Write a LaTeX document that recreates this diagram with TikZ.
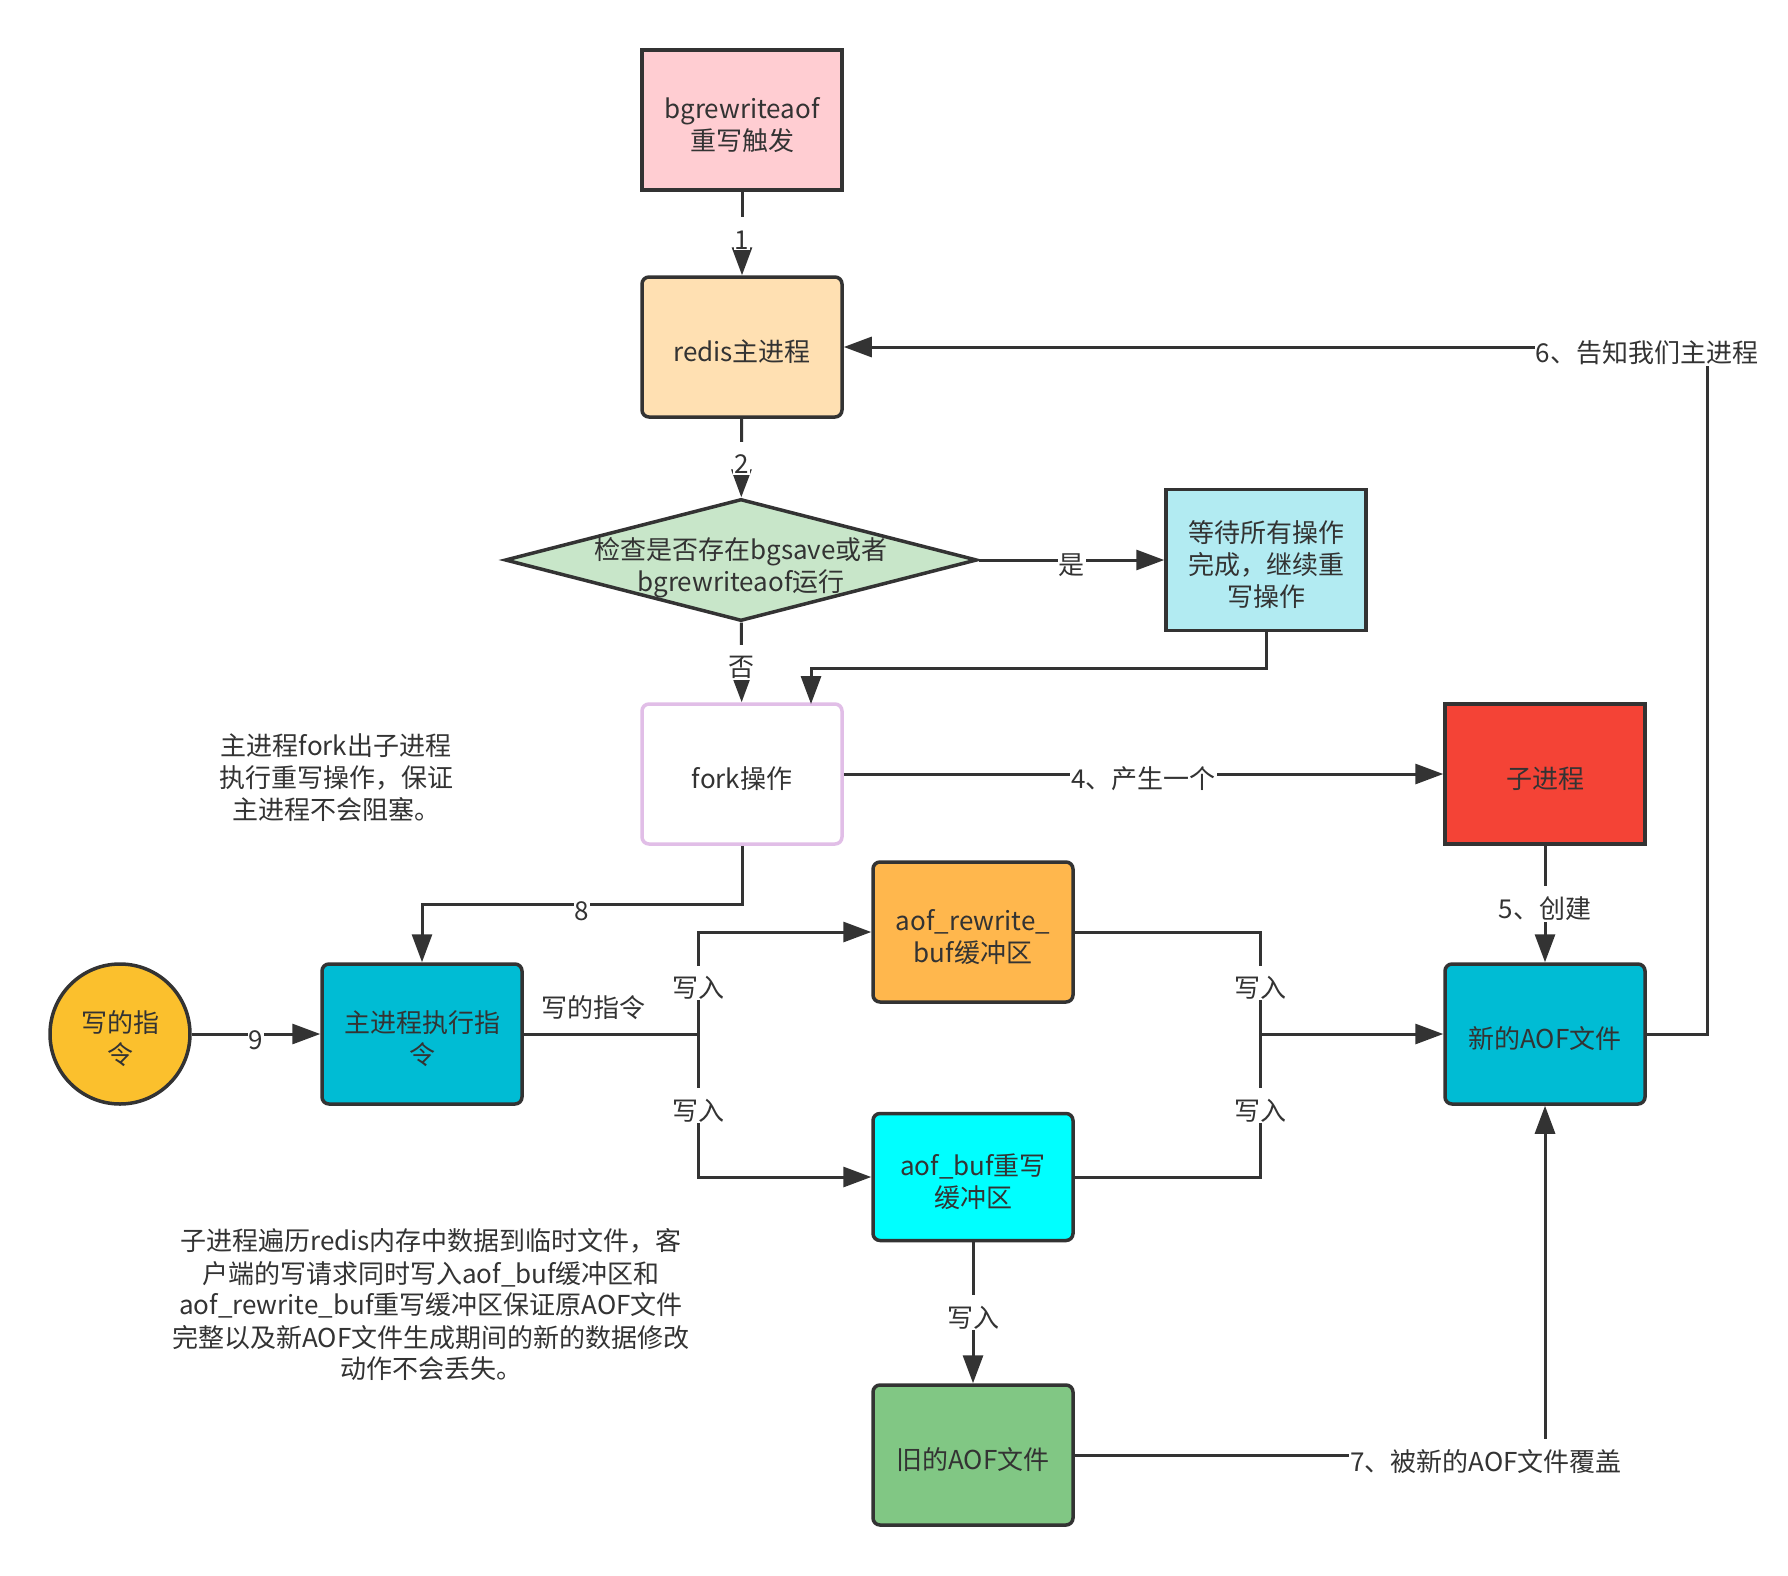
\documentclass[tikz,border=0pt]{standalone}
\usepackage{fontspec}
\setmainfont{Noto Sans CJK SC}
\usetikzlibrary{arrows.meta,shapes.geometric}
\definecolor{ln}{HTML}{333333}
\definecolor{cpink}{HTML}{FFCDD2}
\definecolor{cpeach}{HTML}{FFE0B2}
\definecolor{cgreen}{HTML}{C8E6C9}
\definecolor{cltblue}{HTML}{B2EBF2}
\definecolor{cpurple}{HTML}{E1BEE7}
\definecolor{cred}{HTML}{F44336}
\definecolor{corange}{HTML}{FFB74D}
\definecolor{cteal}{HTML}{00BCD4}
\definecolor{ccyan}{HTML}{00FFFF}
\definecolor{cleaf}{HTML}{81C784}
\definecolor{cyellow}{HTML}{FBC02D}
\newcommand\tsh{\rule{0pt}{31pt}}
\begin{document}
\begin{tikzpicture}[x=1pt,y=-1pt,
  font=\fontsize{26}{32}\selectfont, text=ln,
  tshift/.style={execute at begin node={\rule{0pt}{31pt}}},
  box/.style={draw=ln, line width=3.5pt, minimum width=200pt, minimum height=140pt, align=center, inner sep=2pt, tshift},
  rbox/.style={box, rounded corners=7pt},
  line/.style={draw=ln, line width=3pt},
  conn/.style={line, -{Triangle[length=28pt,width=20pt]}},
  lab/.style={fill=white, inner sep=1pt, tshift}]
\useasboundingbox (0,0) rectangle (1788,1576);
\fill[white] (0,0) rectangle (1788,1576);

% nodes
\node[box, fill=cpink] (trig) at (742,120) {\tsh bgrewriteaof\\重写触发};
\node[rbox, fill=cpeach] (redis) at (742,347) {redis主进程};
\node[diamond, draw=ln, line width=3.5pt, fill=cgreen, minimum width=472pt, minimum height=122pt, inner sep=0pt] (dia) at (741,560) {};
\node[align=center, inner sep=0pt] (diatxt) at (741,568) {检查是否存在bgsave或者\\bgrewriteaof运行};
\node[box, fill=cltblue, minimum height=141pt] (wait) at (1266,560) {\tsh 等待所有操作\\完成，继续重\\写操作};
\node[rbox, draw=cpurple, fill=white] (fork) at (742,774) {fork操作};
\node[box, fill=cred] (child) at (1545,774) {子进程};
\node[rbox, fill=corange] (arb) at (973,932) {\tsh aof\_rewrite\_\\buf缓冲区};
\node[rbox, fill=cteal] (mainexec) at (422,1034) {\tsh 主进程执行指\\令};
\node[circle, draw=ln, line width=3.5pt, fill=cyellow, minimum size=140pt, align=center, inner sep=0pt] (cmd) at (120,1034) {\tsh 写的指\\令};
\node[rbox, fill=cteal] (newaof) at (1545,1034) {新的AOF文件};
\node[rbox, fill=ccyan, minimum height=127pt] (ab) at (973,1177) {\tsh aof\_buf重写\\缓冲区};
\node[rbox, fill=cleaf] (old) at (973,1455) {旧的AOF文件};

% notes
\node[align=center] (note1) at (336,778) {主进程fork出子进程\\执行重写操作，保证\\主进程不会阻塞。};
\node[align=center] (note2) at (431,1305) {子进程遍历redis内存中数据到临时文件，客\\户端的写请求同时写入aof\_buf缓冲区和\\aof\_rewrite\_buf重写缓冲区保证原AOF文件\\完整以及新AOF文件生成期间的新的数据修改\\动作不会丢失。};

% connectors
\draw[conn] (trig) -- node[lab]{1} (redis);
\draw[conn] (redis) -- node[lab]{2} (dia);
\draw[conn] (dia) -- node[lab]{是} (wait);
\draw[conn] (dia) -- node[lab]{否} (fork);
\coordinate (forkin) at (811,704);
\draw[conn] (wait.south) -- ++(0,36) -| (forkin);
\draw[conn] (fork) -- node[lab]{4、产生一个} (child);
\draw[conn] (child) -- node[lab]{5、创建} (newaof);
\draw[conn] (newaof.east) -- ++(61,0) |- (redis.east);
\node[lab] (l6) at (1647,348) {6、告知我们主进程};
\draw[conn] (old.east) -| (newaof.south);
\node[lab] (l7) at (1486,1457) {7、被新的AOF文件覆盖};
\draw[conn] (fork.south) -- ++(0,59) -| node[lab,pos=0.25]{8} (mainexec.north);
\draw[conn] (cmd) -- node[lab]{9} (mainexec);

\coordinate (j1) at (698,1034);
\draw[line] (mainexec.east) -- node[pos=0.4, above=9pt]{写的指令} (j1);
\draw[conn] (j1) |- node[lab,pos=0.25]{写入} (arb.west);
\draw[conn] (j1) |- node[lab,pos=0.25]{写入} (ab.west);
\coordinate (j2) at (1260,1034);
\draw[line] (arb.east) -| node[lab,pos=0.75]{写入} (j2);
\draw[line] (ab.east) -| node[lab,pos=0.75]{写入} (j2);
\draw[conn] (j2) -- (newaof.west);
\draw[conn] (ab) -- node[lab]{写入} (old);
\end{tikzpicture}
\end{document}
